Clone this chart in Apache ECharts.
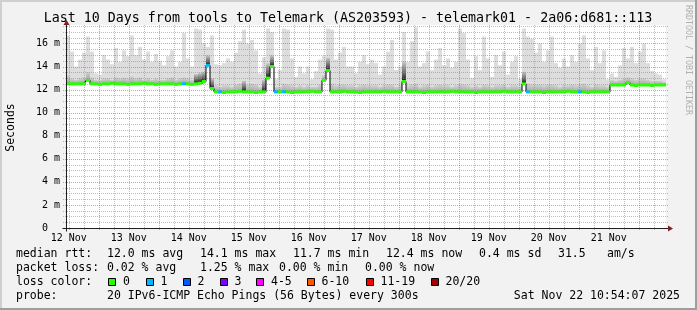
<!DOCTYPE html>
<html><head><meta charset="utf-8">
<script src="https://cdn.jsdelivr.net/npm/echarts@6/dist/echarts.min.js"></script>
<style>html,body{margin:0;padding:0;background:#f2f2f2}#c{width:697px;height:310px}</style>
</head><body><div id="c"></div>
<script>
// ---------- text ----------
const titleText = 'Last 10 Days from tools to Telemark (AS203593) - telemark01 - 2a06:d681::113';
const yAxisName = 'Seconds';
const watermark = 'RRDTOOL / TOBI OETIKER';
const xLabels = ['12 Nov','13 Nov','14 Nov','15 Nov','16 Nov','17 Nov','18 Nov','19 Nov','20 Nov','21 Nov'];
const xLabelHours = [12,36,60,84,108,132,156,180,204,228];   // noon of each day, hours since 12 Nov 00:00
const startHour = 10.902;   // 12 Nov 10:54:07
const endHour = 250.902;    // 22 Nov 10:54:07
const yMax = 17.6;          // ms
const lossLegend = ['0','1','2','3','4-5','6-10','11-19','20/20'];
const lossColors = ['#26ff00','#00b8ff','#0059ff','#7e00ff','#ff00ff','#ff5500','#ff0000','#a10000'];
const statLines = [
  ['median rtt:', '12.0 ms avg', '14.1 ms max', '11.7 ms min', '12.4 ms now', '0.4 ms sd', '31.5', 'am/s'],
  ['packet loss:', '0.02 % avg', '1.25 % max', '0.00 % min', '0.00 % now'],
  ['loss color:'],
  ['probe:', '20 IPv6-ICMP Echo Pings (56 Bytes) every 300s']
];
const dateStamp = 'Sat Nov 22 10:54:07 2025';

// ---------- data: 150 columns (96 min each), values in ms ----------
const rttMedian = [
12.5,12.5,12.5,12.5,12.5,12.8,12.5,12.5,12.45,12.5,
12.5,12.55,12.5,12.5,12.5,12.45,12.5,12.5,12.5,12.55,
12.5,12.5,12.45,12.5,12.5,12.5,12.5,12.45,12.5,12.5,
12.5,12.45,12.5,12.55,12.7,14.1,12.1,11.8,11.8,11.75,
11.8,11.8,11.8,11.85,11.8,11.8,11.8,11.75,11.8,11.8,
13.0,14.0,11.8,11.8,11.8,11.8,11.75,11.8,11.8,11.8,
11.8,11.85,11.8,11.8,12.8,13.65,11.8,11.8,11.8,11.85,
11.8,11.8,11.8,11.75,11.8,11.8,11.8,11.8,11.8,11.85,
11.8,11.8,11.8,11.8,12.7,11.8,11.8,11.8,11.8,11.75,
11.8,11.8,11.8,11.8,11.8,11.8,11.85,11.8,11.8,11.8,
11.8,11.8,11.75,11.8,11.8,11.8,11.8,11.8,11.8,11.85,
11.8,11.8,11.8,11.8,12.5,11.8,11.8,11.8,11.8,11.75,
11.8,11.8,11.8,11.8,11.8,11.85,11.8,11.8,11.8,11.8,
11.75,11.8,11.8,11.8,11.8,11.8,12.4,12.4,12.4,12.4,
12.6,12.4,12.35,12.4,12.4,12.4,12.35,12.4,12.4,12.4];
const rttUpper = [
13.3,13.0,12.9,13.0,13.1,13.6,13.1,12.9,12.9,13.0,
13.0,12.9,13.1,13.0,13.1,13.0,13.2,13.0,13.1,12.9,
13.0,12.9,13.0,12.9,12.9,13.0,13.1,12.9,13.0,13.1,
13.0,12.9,13.4,13.5,13.6,15.0,13.0,12.4,12.3,12.4,
12.4,12.3,12.5,12.6,12.8,12.5,12.6,12.5,12.3,12.9,
14.3,15.0,12.3,12.3,12.6,12.5,12.4,12.3,12.4,12.3,
12.4,12.3,12.3,12.5,13.3,14.8,12.6,12.4,12.5,12.5,
12.4,12.4,12.3,12.4,12.5,12.4,12.4,12.4,12.3,12.4,
12.5,12.5,12.3,12.4,14.5,12.4,12.5,12.6,12.3,12.4,
12.5,12.3,12.4,12.5,12.4,12.4,12.3,12.4,12.6,12.5,
12.4,12.3,12.4,12.3,12.5,12.4,12.3,12.4,12.4,12.5,
12.3,12.4,12.4,12.3,13.6,12.6,12.5,12.5,12.5,12.4,
12.5,12.5,12.4,12.3,12.4,12.4,12.5,12.4,12.5,12.6,
12.4,12.3,12.5,12.4,12.4,12.3,12.9,12.8,12.9,13.0,
13.1,13.0,12.9,13.0,13.0,12.9,12.8,12.8,12.8,12.7];
const rttMax = [
16.7,15.3,14.0,14.6,15.2,16.6,15.3,13.4,13.3,15.0,
14.6,14.2,15.6,14.4,15.4,14.9,16.7,15.0,15.7,14.6,
15.3,14.4,15.1,14.5,14.1,14.9,15.4,14.0,14.4,16.9,
14.7,14.0,17.3,17.2,16.0,15.7,16.7,14.2,14.1,14.3,
14.7,14.4,15.2,16.2,17.2,16.0,16.3,15.4,13.4,14.8,
17.3,17.0,12.9,13.7,17.3,17.2,14.7,13.1,14.0,13.4,
14.0,12.9,13.6,14.6,14.9,17.3,17.2,14.6,15.2,15.7,
14.0,14.0,13.4,14.4,15.0,14.2,14.6,14.3,13.3,14.0,
15.3,16.3,13.7,14.0,17.0,14.4,16.2,17.4,14.0,14.3,
15.3,13.7,14.6,15.6,14.1,14.7,13.9,14.4,17.3,16.9,
14.6,13.0,14.9,13.7,16.6,14.7,13.1,15.0,14.1,15.3,
13.3,14.4,14.9,12.9,17.3,16.6,16.4,15.2,16.0,14.4,
15.4,16.6,14.3,13.9,14.7,14.0,15.0,14.4,16.0,16.7,
14.7,13.7,15.7,14.3,15.4,12.9,13.4,13.1,14.1,15.6,
14.7,15.7,14.3,15.3,16.0,14.3,13.6,13.4,13.3,12.9];
const lossCount = [
0,0,0,0,0,0,0,0,0,0, 0,0,0,0,0,0,0,0,0,0, 0,0,0,0,0,0,0,0,0,1,
0,0,0,0,0,1,0,0,1,0, 0,0,0,0,0,0,0,0,0,0, 0,0,1,0,1,0,0,0,0,0,
0,0,0,0,0,0,0,0,0,0, 0,0,0,0,0,0,0,0,0,0, 0,0,0,0,0,0,0,0,0,0,
0,0,0,0,0,0,0,0,0,0, 0,0,0,0,0,0,0,0,0,0, 0,0,0,0,0,1,0,0,0,0,
0,0,0,0,0,0,0,0,1,0, 0,0,0,0,0,0,0,0,0,0, 0,0,0,0,0,0,0,0,0,0];

// ---------- styles ----------
const MONO = '"DejaVu Sans Mono", monospace';
const GRID_MINOR = 'rgba(143,143,143,0.6)';
const GRID_MAJOR = 'rgba(222,79,79,0.6)';
const AXIS_COL = '#1f1f1f';
const ARROW_COL = '#801f1f';

function lossIndex(n){ if(n<=3) return n; if(n<=5) return 4; if(n<=10) return 5; if(n<=19) return 6; return 7; }

const cats = rttMedian.map((_, i) => i);
const normalGrad = new echarts.graphic.LinearGradient(0,0,0,1,[{offset:0,color:'#d6d6d6'},{offset:1,color:'#a4a4a4'}]);
const spikeGrad = new echarts.graphic.LinearGradient(0,0,0,1,[{offset:0,color:'#cfcfcf'},{offset:0.6,color:'#6a6a6a'},{offset:1,color:'#161616'}]);
const darkData = rttUpper.map((u, i) => {
  const d = Math.max(0, u - rttMedian[i]);
  return d > 0.85 ? {value: d, itemStyle: {color: spikeGrad}} : d;
});
const lightData = rttMax.map((m, i) => Math.max(0, m - Math.max(rttUpper[i], rttMedian[i])));

const vGrid = [];
for (let h = 12; h < endHour; h += 6) vGrid.push([h, 0]);
const hGrid = [];
for (let v = 0.5; v < yMax; v += 0.5) hGrid.push([startHour, v]);

const chart = echarts.init(document.getElementById('c'), null, {renderer: 'canvas'});
chart.setOption({
  animation: false,
  backgroundColor: '#f2f2f2',
  grid: {left: 66, top: 25, width: 600, height: 203, show: true, backgroundColor: '#ffffff', borderWidth: 0},
  xAxis: [
    {type: 'category', data: cats, show: false, boundaryGap: true},
    {type: 'value', min: startHour, max: endHour, position: 'bottom',
     axisLine: {show: false}, axisTick: {show: false}, splitLine: {show: false},
     axisLabel: {customValues: xLabelHours, formatter: v => xLabels[xLabelHours.indexOf(v)] || '',
       fontFamily: MONO, fontSize: 10, color: '#000', margin: 5}}
  ],
  yAxis: {type: 'value', min: 0, max: yMax, interval: 2,
    axisLine: {show: false}, axisTick: {show: false}, splitLine: {show: false},
    axisLabel: {showMaxLabel: false, formatter: v => v === 0 ? '0  ' : v + ' m',
      fontFamily: MONO, fontSize: 10, color: '#000', margin: 6}},
  series: [
    {type: 'bar', name: 'base', xAxisIndex: 0, stack: 'smoke', data: rttMedian, barCategoryGap: '0%',
     itemStyle: {color: 'rgba(0,0,0,0)'}, silent: true, z: 1},
    {type: 'bar', name: 'smokeDark', xAxisIndex: 0, stack: 'smoke', data: darkData, barCategoryGap: '0%',
     itemStyle: {color: normalGrad}, silent: true, z: 1},
    {type: 'bar', name: 'smokeLight', xAxisIndex: 0, stack: 'smoke', data: lightData, barCategoryGap: '0%',
     itemStyle: {color: '#dddddd'}, silent: true, z: 1},
    {type: 'custom', name: 'vgrid', xAxisIndex: 1, data: vGrid, silent: true, z: 2,
     renderItem: (p, api) => {
       const h = api.value(0);
       const top = api.coord([h, yMax]);
       const bot = api.coord([h, 0]);
       const x = Math.round(top[0]) + 0.5;
       return {type: 'line', shape: {x1: x, y1: Math.round(top[1]), x2: x, y2: Math.round(bot[1]) + 3},
         style: {stroke: h % 24 === 0 ? GRID_MAJOR : GRID_MINOR, lineWidth: 1, lineDash: [1, 1]}};
     }},
    {type: 'custom', name: 'hgrid', xAxisIndex: 1, data: hGrid, silent: true, z: 2,
     renderItem: (p, api) => {
       const v = api.value(1);
       const l = api.coord([startHour, v]);
       const r = api.coord([endHour, v]);
       const y = Math.round(l[1]) + 0.5;
       return {type: 'line', shape: {x1: Math.round(l[0]) - 3, y1: y, x2: Math.round(r[0]) + 2, y2: y},
         style: {stroke: v % 2 === 0 ? GRID_MAJOR : GRID_MINOR, lineWidth: 1, lineDash: [1, 1]}};
     }},
    {type: 'line', name: 'medianStep', xAxisIndex: 0, data: rttMedian, step: 'middle', symbol: 'none',
     lineStyle: {color: '#000', width: 1}, silent: true, z: 3},
    {type: 'custom', name: 'medianLoss', xAxisIndex: 0, silent: true, z: 4,
     data: rttMedian.map((v, i) => [i, v, lossCount[i]]),
     renderItem: (p, api) => {
       const c = api.coord([api.value(0), api.value(1)]);
       const w = api.size([1, 0])[0];
       return {type: 'line', shape: {x1: c[0] - w / 2, y1: c[1], x2: c[0] + w / 2, y2: c[1]},
         style: {stroke: lossColors[lossIndex(api.value(2))], lineWidth: 3, lineCap: 'butt'}};
     }}
  ]
});

// ---------- decorations: frame, axes with arrows, texts ----------
const W = 697, H = 310;
const o = chart.convertToPixel({xAxisIndex: 1, yAxisIndex: 0}, [startHour, 0]);
const tr = chart.convertToPixel({xAxisIndex: 1, yAxisIndex: 0}, [endHour, yMax]);
const ax = Math.round(o[0]) + 0.5, ay = Math.round(o[1]) + 0.5;
const g = [];
// 3D frame
g.push({type: 'rect', shape: {x: 0, y: 0, width: W, height: 2}, style: {fill: '#cfcfcf'}, z: 0});
g.push({type: 'rect', shape: {x: 0, y: 0, width: 2, height: H}, style: {fill: '#cfcfcf'}, z: 0});
g.push({type: 'rect', shape: {x: 0, y: H - 2, width: W, height: 2}, style: {fill: '#9e9e9e'}, z: 0});
g.push({type: 'rect', shape: {x: W - 2, y: 0, width: 2, height: H}, style: {fill: '#9e9e9e'}, z: 0});
// axes
g.push({type: 'line', shape: {x1: ax - 4, y1: ay, x2: Math.round(tr[0]) + 2, y2: ay}, style: {stroke: AXIS_COL, lineWidth: 1}, z: 10});
g.push({type: 'line', shape: {x1: ax, y1: ay + 3, x2: ax, y2: Math.round(tr[1])}, style: {stroke: AXIS_COL, lineWidth: 1}, z: 10});
g.push({type: 'polygon', shape: {points: [[Math.round(tr[0]) + 2, ay - 3], [Math.round(tr[0]) + 7, ay], [Math.round(tr[0]) + 2, ay + 3]]}, style: {fill: ARROW_COL}, z: 10});
g.push({type: 'polygon', shape: {points: [[ax - 3, Math.round(tr[1])], [ax, Math.round(tr[1]) - 5], [ax + 3, Math.round(tr[1])]]}, style: {fill: ARROW_COL}, z: 10});
// title
g.push({type: 'text', x: 348, y: 19, style: {text: titleText, font: '13.3px ' + MONO, fill: '#000', align: 'center', verticalAlign: 'middle'}, z: 10});
// y axis name
g.push({type: 'text', x: 11, y: 127.5, rotation: Math.PI / 2, style: {text: yAxisName, font: '11.5px ' + MONO, fill: '#000', align: 'center', verticalAlign: 'middle'}, z: 10});
// watermark
g.push({type: 'text', x: 688, y: 60, rotation: -Math.PI / 2, style: {text: watermark, font: '8.3px ' + MONO, fill: '#b0b0b0', align: 'center', verticalAlign: 'middle'}, z: 10});
// legend / stats
const LF = '11.5px ' + MONO;
const lineY = [254.5, 268.5, 282.5, 296.5];
const col1 = [16, 107, 200, 293, 386, 479, 558, 607];
const col2 = [16, 107, 200, 279, 365];
statLines[0].forEach((t, k) => g.push({type: 'text', x: col1[k], y: lineY[0], style: {text: t, font: LF, fill: '#000', verticalAlign: 'middle'}, z: 10}));
statLines[1].forEach((t, k) => g.push({type: 'text', x: col2[k], y: lineY[1], style: {text: t, font: LF, fill: '#000', verticalAlign: 'middle'}, z: 10}));
g.push({type: 'text', x: 16, y: lineY[2], style: {text: statLines[2][0], font: LF, fill: '#000', verticalAlign: 'middle'}, z: 10});
const boxX = [108, 145.5, 182.5, 219.5, 256, 306.5, 365.5, 430.5];
lossLegend.forEach((t, k) => {
  g.push({type: 'rect', shape: {x: Math.round(boxX[k]) + 0.5, y: 278.5, width: 7, height: 7}, style: {fill: lossColors[k], stroke: '#000', lineWidth: 1}, z: 10});
  g.push({type: 'text', x: boxX[k] + 15, y: lineY[2], style: {text: t, font: LF, fill: '#000', verticalAlign: 'middle'}, z: 10});
});
g.push({type: 'text', x: 16, y: lineY[3], style: {text: statLines[3][0], font: LF, fill: '#000', verticalAlign: 'middle'}, z: 10});
g.push({type: 'text', x: 107, y: lineY[3], style: {text: statLines[3][1], font: LF, fill: '#000', verticalAlign: 'middle'}, z: 10});
g.push({type: 'text', x: 680, y: lineY[3], style: {text: dateStamp, font: LF, fill: '#000', align: 'right', verticalAlign: 'middle'}, z: 10});
chart.setOption({graphic: g});
</script>
</body></html>
